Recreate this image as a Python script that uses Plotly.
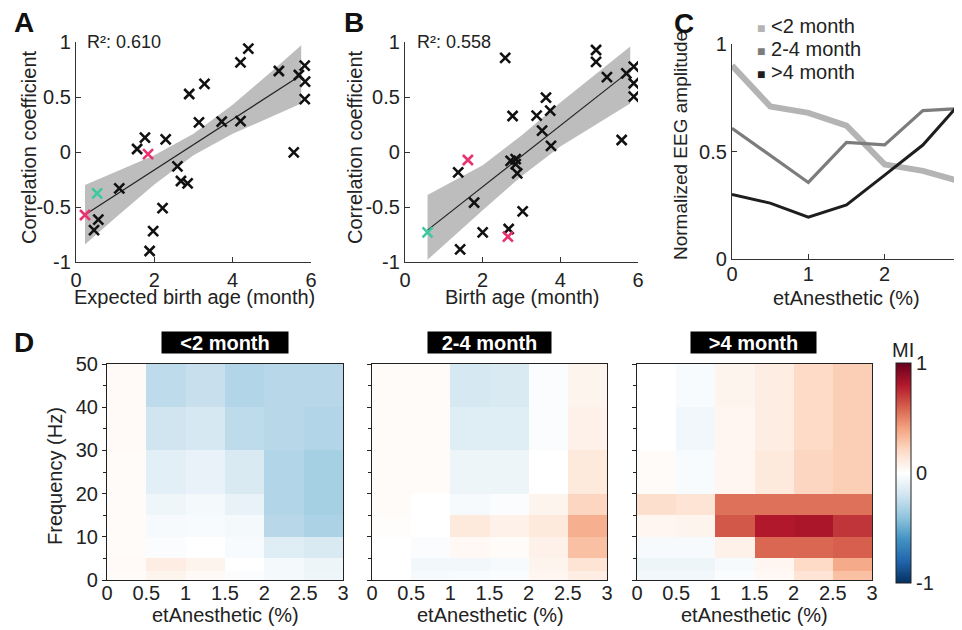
import plotly.graph_objects as go

# ---------------- Panel A data ----------------
a_x = [4.40, 4.20, 5.18, 5.84, 5.69, 5.85, 5.84, 3.28, 2.89, 3.14, 3.72, 4.20, 1.76,
       2.29, 1.56, 5.56, 2.59, 2.68, 2.85, 1.105, 0.57, 0.46, 2.21, 1.97, 1.88]
a_y = [0.94, 0.815, 0.736, 0.785, 0.70, 0.64, 0.48, 0.62, 0.527, 0.27, 0.276, 0.28, 0.13,
       0.115, 0.027, -0.003, -0.13, -0.264, -0.285, -0.33, -0.615, -0.71, -0.51, -0.72, -0.90]
a_pink_x = [1.84, 0.23]
a_pink_y = [-0.02, -0.573]
a_teal_x = [0.54]
a_teal_y = [-0.376]
a_fit_x = [0.23, 5.75]
a_fit_y = [-0.57, 0.70]
a_band_x = [0.23, 1, 2, 3, 4, 5, 5.75]
a_band_hi = [-0.30, -0.185, -0.03, 0.165, 0.43, 0.735, 0.97]
a_band_lo = [-0.84, -0.60, -0.295, -0.03, 0.165, 0.32, 0.44]
a_r2 = "R²: 0.610"
a_xtitle = "Expected birth age (month)"

# ---------------- Panel B data ----------------
b_x = [4.92, 4.92, 2.58, 5.20, 5.89, 5.70, 5.89, 5.89, 3.63, 3.74, 3.39, 2.77, 3.53,
       3.76, 5.58, 1.37, 2.72, 2.85, 2.85, 2.89, 1.78, 3.03, 2.0, 2.67, 1.42]
b_y = [0.927, 0.82, 0.855, 0.68, 0.776, 0.715, 0.625, 0.503, 0.494, 0.376, 0.33, 0.327, 0.194,
       0.055, 0.109, -0.185, -0.08, -0.065, -0.11, -0.194, -0.46, -0.54, -0.73, -0.70, -0.885]
b_pink_x = [1.62, 2.65]
b_pink_y = [-0.073, -0.77]
b_teal_x = [0.58]
b_teal_y = [-0.73]
b_fit_x = [0.58, 5.8]
b_fit_y = [-0.71, 0.74]
b_band_x = [0.58, 2, 3, 4, 5.8]
b_band_hi = [-0.39, -0.12, 0.15, 0.45, 0.96]
b_band_lo = [-0.98, -0.53, -0.22, 0.05, 0.44]
b_r2 = "R²: 0.558"
b_xtitle = "Birth age (month)"
ab_ytitle = "Correlation coefficient"

# ---------------- Panel C data ----------------
c_x = [0, 0.5, 1, 1.5, 2, 2.5, 3]
c_names = ["<2 month", "2-4 month", ">4 month"]
c_lt2 = [0.90, 0.71, 0.68, 0.62, 0.44, 0.41, 0.36]
c_2to4 = [0.608, 0.48, 0.356, 0.542, 0.531, 0.69, 0.70]
c_gt4 = [0.30, 0.26, 0.195, 0.252, 0.39, 0.53, 0.73]
c_ytitle = "Normalized EEG amplitude"
anes_title = "etAnesthetic (%)"

# ---------------- Panel D data (rows bottom -> top) ----------------
d_x_edges = [0, 0.5, 1, 1.5, 2, 2.5, 3]
d_f_edges = [0, 2, 5, 10, 15, 20, 30, 40, 50]
d_titles = ["<2 month", "2-4 month", ">4 month"]
d_ytitle = "Frequency (Hz)"
d_lt2 = [
    [0.02, 0.06, 0.03, -0.02, -0.05, -0.07],
    [0.03, 0.10, 0.06, 0.00, -0.05, -0.08],
    [0.02, -0.02, 0.00, -0.03, -0.14, -0.16],
    [0.02, -0.04, -0.03, -0.05, -0.28, -0.32],
    [0.02, -0.07, -0.05, -0.10, -0.30, -0.34],
    [0.02, -0.12, -0.10, -0.16, -0.30, -0.34],
    [0.03, -0.20, -0.18, -0.26, -0.28, -0.30],
    [0.03, -0.26, -0.23, -0.30, -0.28, -0.28],
]
d_2to4 = [
    [0.00, -0.04, -0.03, -0.02, 0.05, 0.10],
    [0.00, -0.06, -0.06, -0.04, 0.06, 0.15],
    [0.00, -0.02, 0.04, 0.02, 0.08, 0.30],
    [0.01, 0.00, 0.12, 0.08, 0.12, 0.36],
    [0.02, 0.00, -0.04, -0.02, 0.06, 0.22],
    [0.02, 0.02, -0.08, -0.08, 0.00, 0.12],
    [0.02, 0.02, -0.14, -0.14, -0.02, 0.08],
    [0.02, 0.02, -0.18, -0.16, -0.02, 0.06],
]
d_gt4 = [
    [-0.06, -0.06, -0.02, 0.04, 0.15, 0.30],
    [-0.08, -0.08, -0.04, 0.05, 0.20, 0.38],
    [-0.04, -0.04, 0.08, 0.58, 0.58, 0.60],
    [0.05, 0.06, 0.62, 0.80, 0.82, 0.72],
    [0.18, 0.15, 0.55, 0.55, 0.55, 0.55],
    [0.02, -0.03, 0.05, 0.12, 0.22, 0.25],
    [0.00, -0.06, 0.05, 0.10, 0.20, 0.25],
    [0.00, -0.03, 0.06, 0.10, 0.20, 0.25],
]

# The page body has an 8px margin; the figure is sized to fill the rest of the window.
OFF = 8
W, H = 962 - OFF, 630 - OFF
FONT = "Liberation Sans, Arial, sans-serif"
AXC = "#333333"
PINK = "#e8336f"
TEAL = "#3cc9a0"


def px_x(p):
    return (p - OFF) / W


def px_y(p):
    return 1 - (p - OFF) / H


fig = go.Figure()


def scatter_panel(xa, ya, xs, ys, pxs, pys, txs, tys, fx, fy, bx, bhi, blo):
    fig.add_trace(go.Scatter(x=bx + bx[::-1], y=bhi + blo[::-1], fill="toself",
                             fillcolor="#bdbdbd", line=dict(width=0), mode="lines",
                             showlegend=False, hoverinfo="skip", xaxis=xa, yaxis=ya))
    fig.add_trace(go.Scatter(x=fx, y=fy, mode="lines", line=dict(color="#222", width=1.2),
                             showlegend=False, xaxis=xa, yaxis=ya))
    for X, Y, col in ((xs, ys, "#111111"), (pxs, pys, PINK), (txs, tys, TEAL)):
        fig.add_trace(go.Scatter(x=X, y=Y, mode="markers",
                                 marker=dict(symbol="x-thin", size=10,
                                             line=dict(width=2.6, color=col)),
                                 showlegend=False, xaxis=xa, yaxis=ya))


scatter_panel("x", "y", a_x, a_y, a_pink_x, a_pink_y, a_teal_x, a_teal_y,
              a_fit_x, a_fit_y, a_band_x, a_band_hi, a_band_lo)
scatter_panel("x2", "y2", b_x, b_y, b_pink_x, b_pink_y, b_teal_x, b_teal_y,
              b_fit_x, b_fit_y, b_band_x, b_band_hi, b_band_lo)

# Panel C lines
c_colors = ["#b4b4b4", "#7c7c7c", "#1e1e1e"]
c_widths = [6, 3.2, 3]
for name, ys, col, w in zip(c_names, [c_lt2, c_2to4, c_gt4], c_colors, c_widths):
    fig.add_trace(go.Scatter(x=c_x, y=ys, mode="lines", name=name,
                             line=dict(color=col, width=w),
                             showlegend=False, xaxis="x3", yaxis="y3"))

# Panel D heatmaps
for i, z in enumerate([d_lt2, d_2to4, d_gt4]):
    fig.add_trace(go.Heatmap(x=d_x_edges, y=d_f_edges, z=z, coloraxis="coloraxis",
                             xaxis="x%d" % (4 + i), yaxis="y%d" % (4 + i)))

rdbu_r = [
    [0.0, "rgb(5,48,97)"], [0.1, "rgb(33,102,172)"], [0.2, "rgb(67,147,195)"],
    [0.3, "rgb(146,197,222)"], [0.4, "rgb(209,229,240)"], [0.5, "rgb(255,255,255)"],
    [0.6, "rgb(253,219,199)"], [0.7, "rgb(244,165,130)"], [0.8, "rgb(214,96,77)"],
    [0.9, "rgb(178,24,43)"], [1.0, "rgb(103,0,31)"],
]

tickfont = dict(family=FONT, size=20, color="#222")


def sc_xaxis(xdom, anchor):
    return dict(domain=xdom, range=[0, 6], tickvals=[0, 2, 4, 6], ticks="inside", ticklen=5,
                tickcolor=AXC, showline=True, linecolor=AXC, linewidth=1.2, showgrid=False,
                zeroline=False, tickfont=tickfont, automargin=False, anchor=anchor,
                ticklabelstandoff=0)


def sc_yaxis(anchor):
    return dict(domain=[px_y(262), px_y(42)], range=[-1, 1],
                tickvals=[-1, -0.5, 0, 0.5, 1], ticktext=["-1", "-0.5", "0", "0.5", "1"],
                ticks="inside", ticklen=5, tickcolor=AXC, showline=True, linecolor=AXC,
                linewidth=1.2, showgrid=False, zeroline=False, tickfont=tickfont,
                automargin=False, anchor=anchor)


layout = dict(
    width=W, height=H, margin=dict(l=0, r=0, t=0, b=0, autoexpand=False),
    paper_bgcolor="white", plot_bgcolor="white",
    font=dict(family=FONT, size=20, color="#222"),
    xaxis=sc_xaxis([px_x(76), px_x(311)], "y"),
    yaxis=sc_yaxis("x"),
    xaxis2=sc_xaxis([px_x(405), px_x(638)], "y2"),
    yaxis2=sc_yaxis("x2"),
    xaxis3=dict(domain=[px_x(732), px_x(961)], range=[0, 3], tickvals=[0, 1, 2, 3],
                ticks="inside", ticklen=5, tickcolor=AXC, showline=True, linecolor=AXC,
                linewidth=1.2, showgrid=False, zeroline=False, tickfont=tickfont, anchor="y3",
                automargin=False, ticklabelstandoff=-3),
    yaxis3=dict(domain=[px_y(259), px_y(44)], range=[0, 1], tickvals=[0, 0.5, 1],
                ticktext=["0", "0.5", "1"], ticks="inside", ticklen=5, tickcolor=AXC,
                showline=True, linecolor=AXC, linewidth=1.2, showgrid=False, zeroline=False,
                tickfont=tickfont, anchor="x3", automargin=False),
    coloraxis=dict(colorscale=rdbu_r, cmin=-1, cmax=1,
                   colorbar=dict(x=px_x(896), xanchor="left", y=px_y(473), yanchor="middle",
                                 len=220 / H, lenmode="fraction", thickness=15,
                                 thicknessmode="pixels", outlinewidth=1, outlinecolor="#222",
                                 tickvals=[-1, 0, 1], ticktext=["-1", "0", "1"], ticks="",
                                 tickfont=tickfont, ypad=0, xpad=0)),
    showlegend=False,
)

d_doms = [(107, 343), (372, 607), (637, 872)]
for i, (l, r) in enumerate(d_doms):
    k = 4 + i
    layout["xaxis%d" % k] = dict(domain=[px_x(l), px_x(r)], range=[0, 3],
                                 tickvals=[0, 0.5, 1, 1.5, 2, 2.5, 3],
                                 ticktext=["0", "0.5", "1", "1.5", "2", "2.5", "3"],
                                 ticks="", showline=True, ticklabelstandoff=-5,
                                 mirror=True, linecolor="#222", linewidth=1.2, showgrid=False,
                                 zeroline=False, tickfont=tickfont, anchor="y%d" % k,
                                 automargin=False)
    ya = dict(domain=[px_y(580), px_y(364)], range=[0, 50], tickvals=[0, 10, 20, 30, 40, 50],
              ticks="outside", ticklen=4, tickcolor="#222", showline=True, mirror=True,
              linecolor="#222", linewidth=1.2, showgrid=False, zeroline=False,
              tickfont=tickfont, anchor="x%d" % k, automargin=False,
              minor=dict(dtick=5, ticks="outside", ticklen=3, tickcolor="#222"))
    if i > 0:
        ya["showticklabels"] = False
    layout["yaxis%d" % k] = ya

fig.update_layout(**layout)


def label(text, xc, yc, size=20, angle=0, xanchor="center", **kw):
    fig.add_annotation(text=text, xref="paper", yref="paper", x=px_x(xc), y=px_y(yc),
                       xanchor=xanchor, yanchor="middle", showarrow=False, textangle=angle,
                       font=dict(family=FONT, size=size, color=kw.pop("color", "#222")), **kw)


# Axis titles
label(ab_ytitle, 29, 147, angle=-90)
label(ab_ytitle, 355, 147, angle=-90)
label(c_ytitle, 680, 146, size=19, angle=-90)
label(a_xtitle, 194, 297)
label(b_xtitle, 522, 297)
label(anes_title, 846, 298)
for xc in (225, 490, 754):
    label(anes_title, xc, 615)
label(d_ytitle, 55, 476, angle=-90)

# Panel letters
for t, x0, yc in [("A", 12, 23), ("B", 342, 23), ("C", 672, 24), ("D", 12, 343)]:
    label("<b>%s</b>" % t, x0, yc, size=28, xanchor="left", color="#111")

# R² texts
label(a_r2, 85, 42, size=18, xanchor="left")
label(b_r2, 415, 42, size=18, xanchor="left")

# Heatmap titles
for t, (l, r) in zip(d_titles, [(160, 290), (426, 553), (689, 818)]):
    label("<b>%s</b>" % t.replace("<", "&lt;").replace(">", "&gt;"), (l + r) / 2, 343,
          width=r - l - 6, height=19, bgcolor="black", borderpad=1, color="white")

# Colorbar title
label("MI", 903, 350)

# Panel C legend
for j, (name, col) in enumerate(zip(c_names, c_colors)):
    label('<span style="color:%s;font-size:14px">■</span> %s'
          % (col, name.replace("<", "&lt;").replace(">", "&gt;")),
          755, 26 + 23 * j, xanchor="left")

fig.write_html("out.html")
